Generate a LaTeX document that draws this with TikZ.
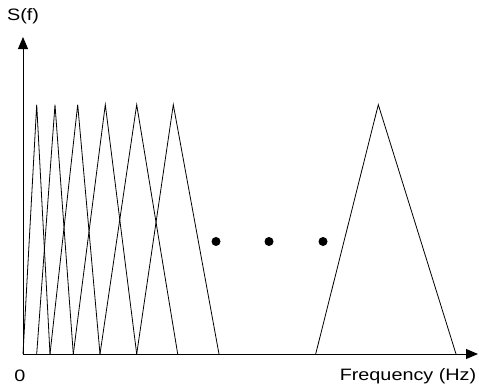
\documentclass[tikz,border=0pt]{standalone}
\usepackage{fontspec}
\setmainfont{Liberation Sans}[FakeStretch=1.2]
\usetikzlibrary{arrows.meta}

\tikzset{
  axis/.style={line width=1pt, -{Triangle[length=12pt, width=10pt]}},
  band/.style={line width=0.8pt},
  lbl/.style={inner sep=0pt, font=\fontsize{16.5}{19}\selectfont}
}

\begin{document}
\begin{tikzpicture}[x=1pt, y=-1pt]
  \useasboundingbox (0,0) rectangle (479,391);

  % Axes
  \coordinate (origin) at (23,354);
  \coordinate (ytop) at (23,37);
  \coordinate (xend) at (478,354);
  \draw[axis] (origin) -- (ytop);
  \draw[axis] (origin) -- (xend);

  % Axis labels
  \node[lbl] (sf) at (23,16) {S(f)};
  \node[lbl] (zero) at (20,376) {0};
  \node[lbl] (freq) at (408,376) {Frequency (Hz)};

  % Triangular spectra (left base / peak / right base)
  \foreach \l/\p/\r in {23/36.7/50, 36.7/55/73.3, 50/77.7/100, 73.3/105.3/136.7,
                        100/136.7/177.7, 136.7/173.3/219, 315.7/378.3/456}
    \draw[band] (\l,354) -- (\p,104.7) -- (\r,354);

  % Dots
  \foreach \x in {216,269,323}
    \fill (\x,241.5) circle[radius=4.5];
\end{tikzpicture}
\end{document}
